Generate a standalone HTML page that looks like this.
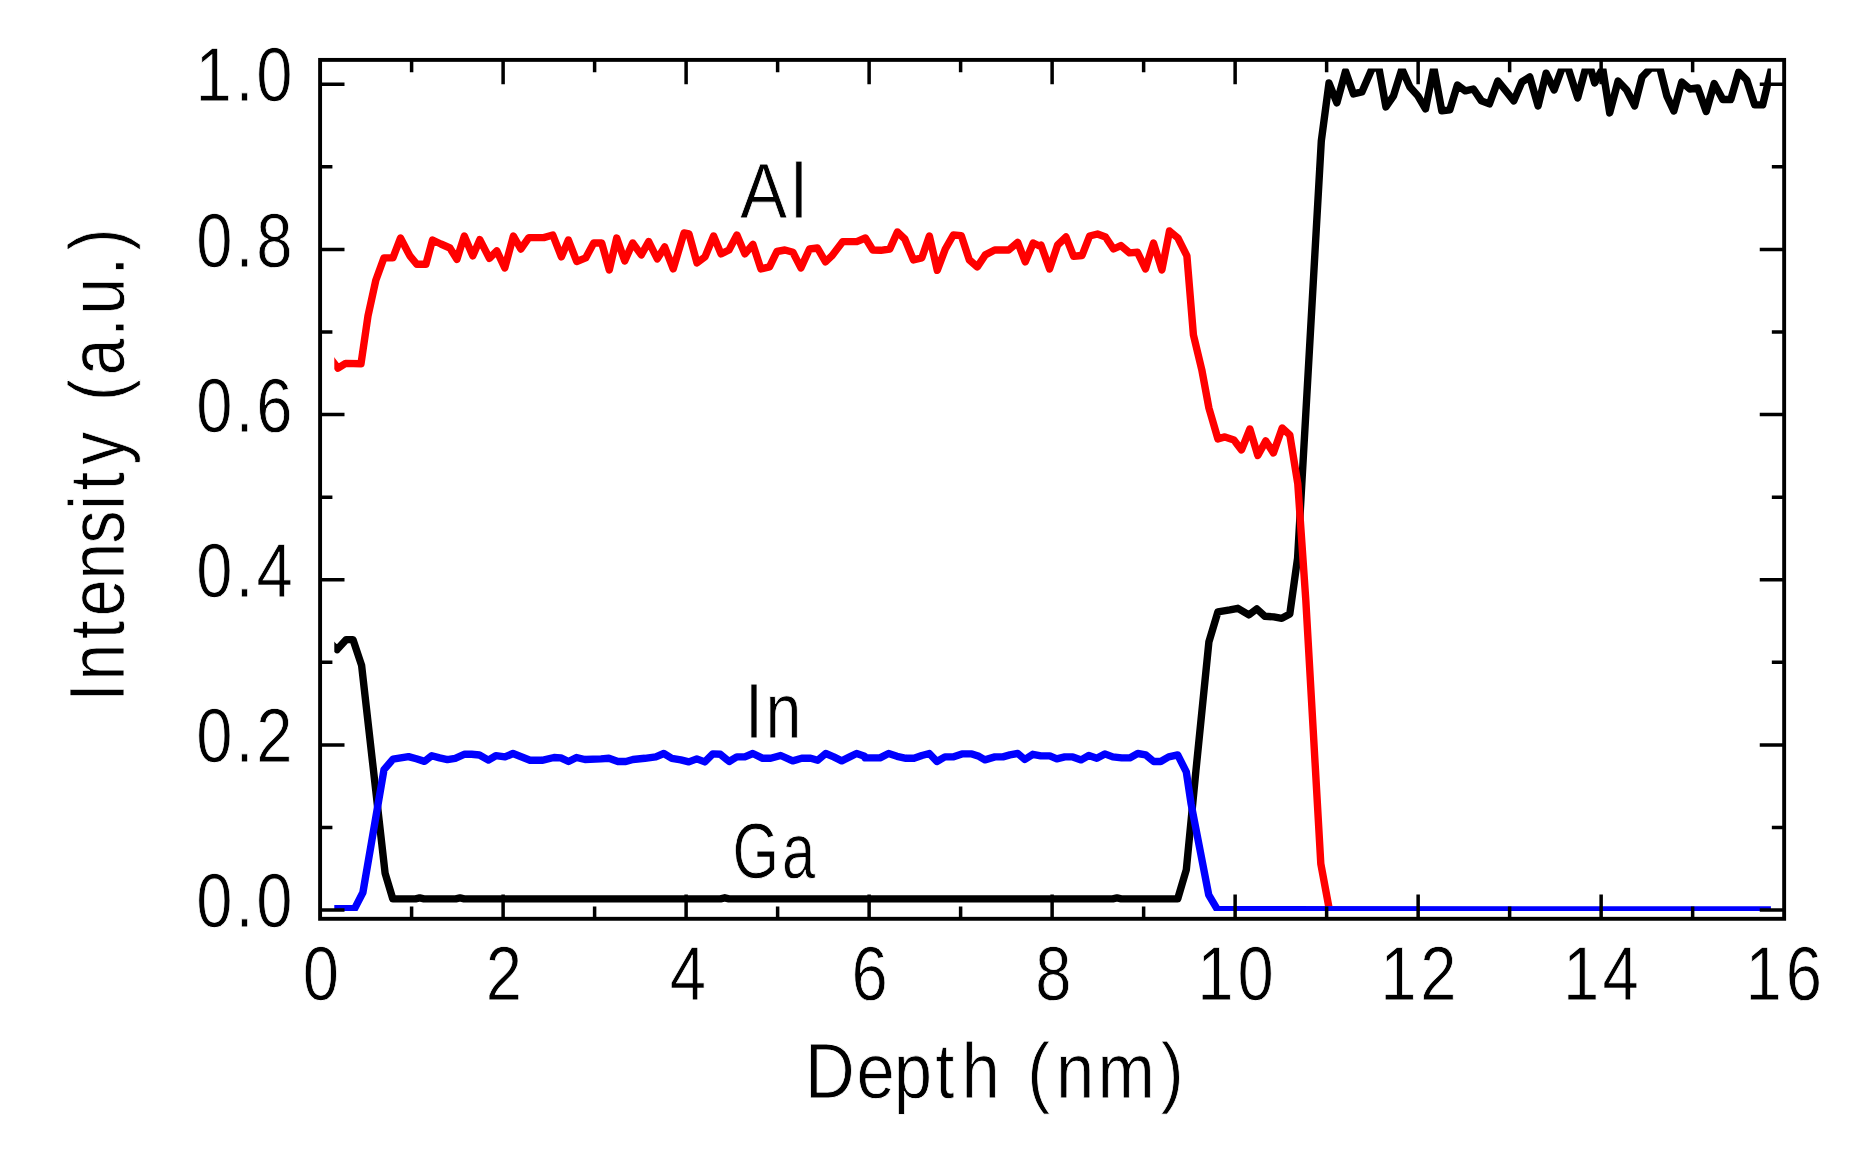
<!DOCTYPE html>
<html lang="en"><head><meta charset="utf-8"><title>Depth profile: Al, In, Ga intensity</title>
<style>
html,body{margin:0;padding:0;background:#fff;}
body{width:1852px;height:1156px;overflow:hidden;}
svg{display:block;}
text{font-family:"Liberation Sans",sans-serif;fill:#000;text-rendering:geometricPrecision;stroke:#fff;stroke-width:0.8px;}
</style></head><body>
<svg width="1852" height="1156" viewBox="0 0 1852 1156">
<rect x="0" y="0" width="1852" height="1156" fill="#fff"/>
<defs><clipPath id="c"><rect x="334.3" y="68.4" width="1436.6" height="842.7"/></clipPath></defs>
<g clip-path="url(#c)" fill="none" stroke-width="7.4" stroke-linejoin="round" stroke-linecap="butt">
<path stroke="#000" d="M327.0 640.0 L337.1 649.6 L346.3 639.6 L353.0 639.6 L361.6 665.4 L385.1 873.2 L392.8 898.9 L415.5 898.9 L419.7 897.9 L424.0 898.9 L455.8 898.9 L460.0 897.9 L464.2 898.9 L720.5 898.9 L724.8 897.8 L729.0 898.9 L1112.8 898.9 L1117.0 897.9 L1121.2 898.9 L1177.7 898.9 L1186.3 869.8 L1195.9 771.0 L1208.9 641.9 L1217.9 611.9 L1229.9 609.9 L1237.9 608.3 L1248.9 614.9 L1256.8 608.9 L1264.8 616.3 L1273.8 616.9 L1281.8 618.3 L1289.8 613.9 L1297.6 558.0 L1321.3 141.0 L1329.0 83.0 L1336.9 102.9 L1345.5 71.2 L1353.5 93.9 L1361.9 91.9 L1372.3 68.0 L1378.9 68.0 L1385.9 106.9 L1393.5 95.9 L1401.9 69.0 L1409.9 87.0 L1417.9 95.9 L1425.5 108.9 L1433.8 67.6 L1441.8 110.9 L1449.8 109.9 L1457.4 85.0 L1465.4 90.9 L1473.4 89.0 L1481.4 100.9 L1489.4 103.9 L1497.8 81.0 L1505.8 90.9 L1513.8 100.9 L1521.8 82.0 L1529.8 77.0 L1538.1 105.9 L1546.1 73.2 L1554.1 90.0 L1562.1 68.0 L1568.1 68.0 L1577.7 97.9 L1585.7 68.0 L1590.7 69.0 L1594.7 83.0 L1602.7 68.4 L1609.7 112.9 L1618.1 81.0 L1626.7 90.0 L1634.6 105.9 L1642.0 77.0 L1650.8 68.0 L1659.8 68.0 L1666.8 95.9 L1673.8 110.9 L1681.8 82.0 L1689.8 89.0 L1697.8 88.0 L1706.2 111.5 L1714.2 83.6 L1722.8 99.5 L1730.8 99.5 L1738.7 72.0 L1746.7 80.0 L1754.7 104.9 L1762.7 104.9 L1771.1 70.0 L1773.7 59.2"/>
<path stroke="#f00" d="M330.0 357.8 L338.0 368.2 L345.6 363.4 L361.0 363.8 L368.0 315.9 L375.9 279.9 L383.9 257.9 L392.9 257.9 L400.5 238.0 L409.9 255.9 L416.9 264.3 L425.9 264.3 L432.5 240.0 L440.9 244.0 L449.9 248.0 L456.9 259.3 L464.3 236.0 L472.8 255.9 L479.8 239.6 L489.4 258.3 L496.8 250.9 L504.8 267.9 L513.4 236.0 L520.8 249.0 L528.8 237.6 L543.8 237.6 L552.8 235.0 L561.4 256.9 L568.4 240.0 L576.7 261.5 L585.7 257.9 L593.7 243.0 L601.7 243.0 L609.3 269.9 L616.7 238.0 L624.7 260.9 L632.7 243.0 L641.3 254.9 L648.7 241.6 L657.3 258.9 L664.7 247.0 L673.2 268.9 L684.0 233.0 L689.0 234.0 L697.0 262.9 L705.0 256.9 L713.6 236.0 L721.0 253.9 L729.0 250.0 L736.9 235.0 L744.9 253.9 L752.9 244.4 L760.9 268.9 L769.5 266.9 L776.9 251.5 L784.9 250.0 L792.9 252.3 L800.9 267.9 L809.5 249.0 L817.5 248.0 L825.5 261.9 L831.8 255.9 L842.8 241.6 L856.8 241.6 L865.4 238.0 L872.8 250.0 L880.8 250.3 L889.8 249.0 L897.4 232.0 L904.8 239.0 L913.4 259.9 L921.8 257.9 L929.4 236.0 L937.3 270.3 L945.3 249.0 L953.3 235.0 L961.3 235.6 L969.3 259.9 L977.3 266.9 L985.3 254.9 L994.7 250.0 L1008.7 250.0 L1017.7 242.4 L1025.3 261.9 L1033.2 243.0 L1041.6 247.0 L1041.0 245.0 L1049.6 268.9 L1057.6 245.0 L1066.0 237.0 L1073.6 256.3 L1082.0 255.5 L1089.6 236.0 L1097.5 234.0 L1105.5 237.0 L1113.5 249.0 L1120.9 245.6 L1129.5 252.9 L1137.5 252.3 L1145.5 268.9 L1153.5 243.0 L1161.9 269.9 L1169.5 231.0 L1177.9 238.0 L1186.9 255.9 L1193.4 334.9 L1201.8 369.8 L1208.9 408.0 L1217.9 438.9 L1224.9 436.9 L1233.9 439.9 L1241.5 449.9 L1249.9 429.0 L1257.8 455.5 L1265.8 440.9 L1273.4 452.9 L1282.2 428.0 L1289.8 434.9 L1297.8 483.9 L1305.8 600.0 L1313.2 730.0 L1320.8 863.8 L1328.8 906.8"/>
<path stroke="#00f" d="M326.0 908.6 L354.6 908.6 L362.9 892.5 L384.0 769.6 L393.0 759.2 L400.7 757.9 L408.5 756.6 L416.3 758.8 L424.5 761.4 L431.8 755.7 L439.6 757.9 L447.4 759.6 L455.2 758.3 L464.7 754.2 L471.6 754.2 L479.4 755.0 L488.4 760.1 L495.8 755.7 L505.0 756.9 L513.0 753.5 L530.0 760.3 L542.0 760.3 L554.0 757.5 L560.9 757.9 L568.5 761.5 L576.5 757.5 L584.9 759.5 L600.9 758.9 L608.9 758.3 L617.9 761.5 L625.9 761.5 L632.9 759.5 L644.9 758.3 L655.8 756.9 L663.8 753.5 L671.8 758.3 L680.8 759.9 L688.8 761.9 L696.8 758.9 L704.8 761.9 L712.8 753.9 L720.4 754.3 L729.2 761.5 L736.8 756.9 L744.8 756.9 L752.8 753.5 L762.7 758.3 L770.7 758.3 L780.7 755.5 L792.7 760.9 L801.7 758.3 L810.7 758.3 L817.7 760.3 L825.7 753.5 L833.7 756.9 L841.7 760.9 L849.7 756.9 L856.6 753.5 L864.6 756.3 L865.0 757.9 L880.0 757.9 L888.6 753.5 L897.0 756.3 L906.0 758.3 L914.0 758.3 L921.9 755.5 L929.3 753.5 L936.9 761.5 L944.9 756.9 L952.9 756.9 L961.9 753.9 L971.9 753.9 L978.9 756.3 L984.9 759.9 L994.9 756.9 L1002.9 756.9 L1009.9 754.9 L1017.8 753.5 L1024.8 759.5 L1032.8 754.3 L1040.8 755.9 L1049.8 755.9 L1056.8 758.9 L1064.8 756.9 L1072.8 756.9 L1081.2 759.9 L1088.8 755.5 L1096.8 758.3 L1104.8 753.9 L1112.8 756.9 L1121.7 757.9 L1129.7 757.9 L1137.7 753.5 L1145.7 754.9 L1153.7 761.5 L1160.7 761.5 L1168.7 756.9 L1177.7 754.9 L1186.3 771.9 L1191.1 803.9 L1208.7 894.8 L1217.6 909.8 L1780.0 910.0"/>
</g>
<path d="M411.60 918.80V906.50M411.60 59.90V72.20M503.11 918.80V894.40M503.11 59.90V84.30M594.61 918.80V906.50M594.61 59.90V72.20M686.11 918.80V894.40M686.11 59.90V84.30M777.62 918.80V906.50M777.62 59.90V72.20M869.12 918.80V894.40M869.12 59.90V84.30M960.62 918.80V906.50M960.62 59.90V72.20M1052.12 918.80V894.40M1052.12 59.90V84.30M1143.63 918.80V906.50M1143.63 59.90V72.20M1235.13 918.80V894.40M1235.13 59.90V84.30M1326.63 918.80V906.50M1326.63 59.90V72.20M1418.14 918.80V894.40M1418.14 59.90V84.30M1509.64 918.80V906.50M1509.64 59.90V72.20M1601.14 918.80V894.40M1601.14 59.90V84.30M1692.64 918.80V906.50M1692.64 59.90V72.20M320.10 910.05H344.50M1784.15 910.05H1759.75M320.10 827.47H332.40M1784.15 827.47H1771.85M320.10 744.90H344.50M1784.15 744.90H1759.75M320.10 662.32H332.40M1784.15 662.32H1771.85M320.10 579.75H344.50M1784.15 579.75H1759.75M320.10 497.17H332.40M1784.15 497.17H1771.85M320.10 414.60H344.50M1784.15 414.60H1759.75M320.10 332.02H332.40M1784.15 332.02H1771.85M320.10 249.45H344.50M1784.15 249.45H1759.75M320.10 166.87H332.40M1784.15 166.87H1771.85M320.10 84.30H344.50M1784.15 84.30H1759.75" stroke="#000" stroke-width="3.5" fill="none"/>
<rect x="320.10" y="59.90" width="1464.05" height="858.90" fill="none" stroke="#000" stroke-width="3.9"/>
<text font-size="78.5" transform="translate(0 1098.40) scale(0.8772 1)" x="917.76 976.48 1018.84 1066.20 1096.05 1139.70 1171.17 1203.83 1251.20 1323.15">Depth (nm)</text>
<text font-size="78.5" transform="translate(124.30 0) rotate(-90) scale(0.8406 1)" x="-834.74 -809.56 -760.10 -733.17 -689.52 -646.67 -606.68 -583.08 -552.91 -513.66 -477.04 -446.27 -400.40 -374.21 -327.47 -298.05">Intensity (a.u.)</text>
<text font-size="78.5" transform="translate(0 217.80) scale(0.9016 1)" x="820.72 877.28">Al</text>
<text font-size="78.5" transform="translate(0 737.80) scale(0.8237 1)" x="904.37 929.39">In</text>
<text font-size="78.5" transform="translate(0 877.80) scale(0.7601 1)" x="963.54 1028.69">Ga</text>
<text font-size="76.7" transform="translate(0 927.10) scale(0.8500 1)" x="231.02 276.96 301.61">0.0</text>
<text font-size="76.7" transform="translate(0 761.95) scale(0.8500 1)" x="231.02 276.96 301.61">0.2</text>
<text font-size="76.7" transform="translate(0 596.80) scale(0.8500 1)" x="231.02 276.96 301.86">0.4</text>
<text font-size="76.7" transform="translate(0 431.65) scale(0.8500 1)" x="231.02 276.96 301.35">0.6</text>
<text font-size="76.7" transform="translate(0 266.50) scale(0.8500 1)" x="231.02 276.96 301.61">0.8</text>
<text font-size="76.7" transform="translate(0 101.35) scale(0.8500 1)" x="229.86 276.96 301.55">1.0</text>
<text font-size="76.7" transform="translate(0 999.50) scale(0.8500 1)" x="356.08">0</text>
<text font-size="76.7" transform="translate(0 999.50) scale(0.8500 1)" x="571.55">2</text>
<text font-size="76.7" transform="translate(0 999.50) scale(0.8500 1)" x="787.86">4</text>
<text font-size="76.7" transform="translate(0 999.50) scale(0.8500 1)" x="1001.82">6</text>
<text font-size="76.7" transform="translate(0 999.50) scale(0.8500 1)" x="1217.85">8</text>
<text font-size="76.7" transform="translate(0 999.50) scale(0.8500 1)" x="1408.56 1455.97">10</text>
<text font-size="76.7" transform="translate(0 999.50) scale(0.8500 1)" x="1623.92 1670.91">12</text>
<text font-size="76.7" transform="translate(0 999.50) scale(0.8500 1)" x="1838.80 1885.39">14</text>
<text font-size="76.7" transform="translate(0 999.50) scale(0.8500 1)" x="2053.62 2100.94">16</text>
</svg></body></html>
